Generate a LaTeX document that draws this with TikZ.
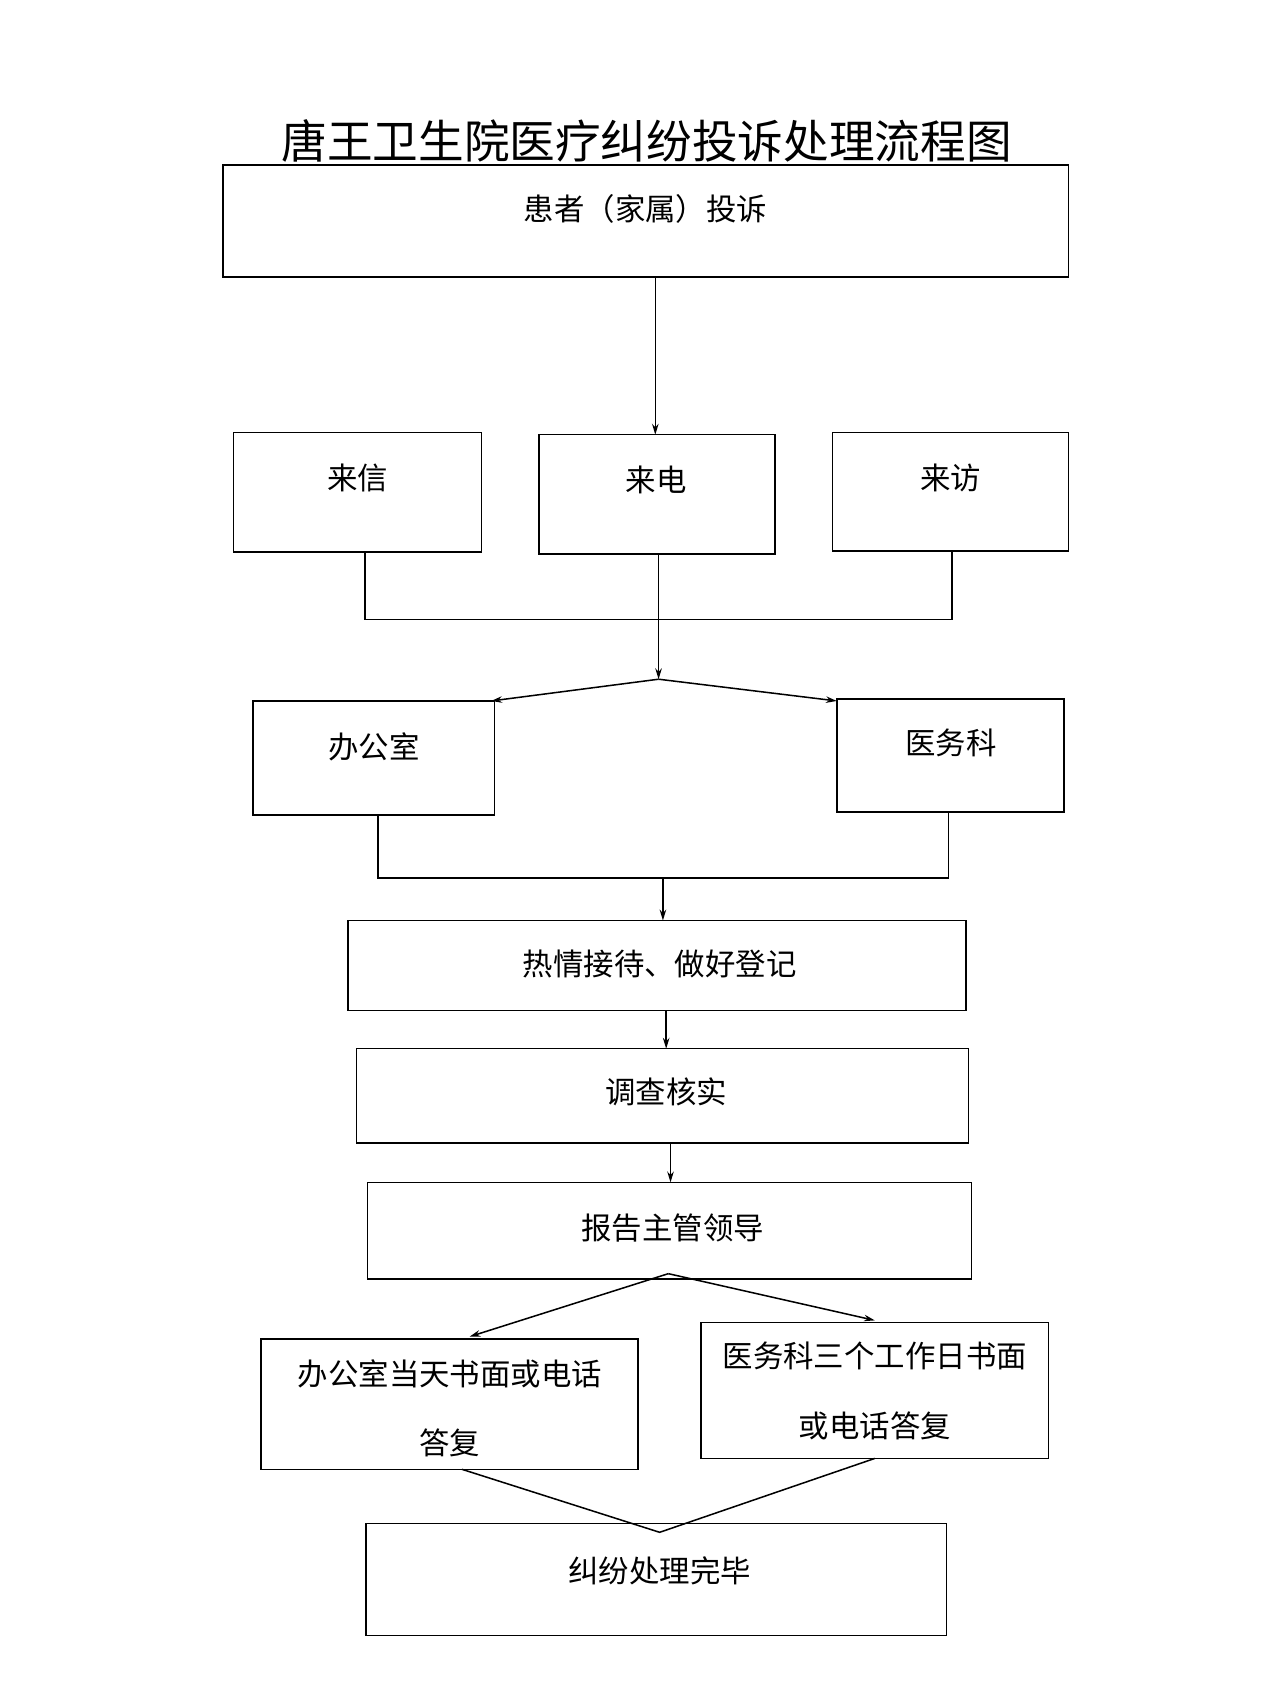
\documentclass[tikz,border=0pt]{standalone}
\usepackage{fontspec}
\setmainfont{Noto Sans CJK SC}
\usetikzlibrary{arrows.meta}
\begin{document}
\begin{tikzpicture}[x=0.5pt,y=-0.5pt,
  box/.style={draw,line width=0.7pt,inner sep=0pt},
  ln/.style={line width=0.7pt},
  ar/.style={line width=0.7pt,-{Stealth[length=5pt,width=3pt]}},
  txt/.style={font=\fontsize{14}{18}\selectfont}]
\useasboundingbox[fill=white] (0,0) rectangle (1178,1568);
\node[font=\fontsize{21}{24}\selectfont] (title) at (595,130) {唐王卫生院医疗纠纷投诉处理流程图};
\draw[box] (205,152) rectangle (983,255);
\node[txt] (p) at (594,192) {患者（家属）投诉};
\coordinate (pb) at (603,255);
\draw[box] (215,398) rectangle (443,508); \node[txt] (a1) at (329,440) {来信};
\draw[box] (496,400) rectangle (713,510); \node[txt] (a2) at (604,442) {来电};
\draw[box] (766,398) rectangle (983,507); \node[txt] (a3) at (875,440) {来访};
\coordinate (a2t) at (603,400);
\draw[ar] (pb) -- (a2t);
\coordinate (m1l) at (336,570); \coordinate (m1r) at (876,570);
\coordinate (m1c) at (606,570); \coordinate (s1) at (606,625);
\draw[ln] (336,508) -- (m1l) -- (m1r) -- (876,507);
\draw[ln] (606,510) -- (m1c);
\draw[ar] (m1c) -- (s1);
\draw[box] (233,645) rectangle (455,750); \node[txt] (b1) at (344,687) {办公室};
\draw[box] (770,643) rectangle (979,747); \node[txt] (b2) at (875,684) {医务科};
\coordinate (b1t) at (452,645); \coordinate (b2t) at (770,645);
\draw[ar] (s1) -- (b1t); \draw[ar] (s1) -- (b2t);
\coordinate (m2c) at (610,808);
\draw[ln] (348,750) -- (348,808) -- (873,808) -- (873,747);
\draw[box] (320,847) rectangle (889,930); \node[txt] (c1) at (607,887) {热情接待、做好登记};
\draw[ar] (m2c) -- (610,847);
\draw[box] (328,965) rectangle (891,1052); \node[txt] (c2) at (613,1005) {调查核实};
\draw[ar] (613,930) -- (613,965);
\draw[box] (338,1088) rectangle (894,1177); \node[txt] (c3) at (619,1130) {报告主管领导};
\draw[ar] (617,1052) -- (617,1088);
\coordinate (s2) at (615,1172);
\draw[box] (240,1232) rectangle (587,1352);
\node[txt,align=center] (d1) at (414,1296) {办公室当天书面或电话\\[14pt]答复};
\draw[box] (645,1217) rectangle (965,1342);
\node[txt,align=center] (d2) at (805,1280) {医务科三个工作日书面\\[14pt]或电话答复};
\draw[ar] (s2) -- (432,1230); \draw[ar] (s2) -- (805,1215);
\coordinate (e) at (607,1410);
\draw[ln] (425,1352) -- (e) -- (805,1342);
\draw[box] (337,1402) rectangle (871,1505); \node[txt] (f) at (607,1445) {纠纷处理完毕};
\end{tikzpicture}
\end{document}
